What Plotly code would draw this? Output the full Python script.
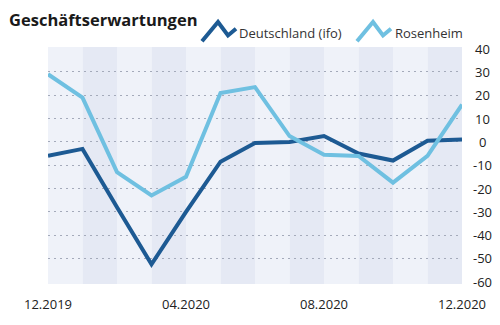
import plotly.graph_objects as go

months = ["12.2019", "01.2020", "02.2020", "03.2020", "04.2020", "05.2020", "06.2020",
          "07.2020", "08.2020", "09.2020", "10.2020", "11.2020", "12.2020"]
deutschland = [-6, -3, -28, -52.5, -30, -8.5, -0.5, 0, 2.5, -5, -8, 0.5, 1]
rosenheim = [29, 19, -13, -23, -15, 21, 23.5, 2.5, -5.5, -6, -17.5, -6, 16]
xtick_idx = [0, 4, 8, 12]
xtick_text = ["12.2019", "04.2020", "08.2020", "12.2020"]
ytick_vals = [40, 30, 20, 10, 0, -10, -20, -30, -40, -50, -60]
grid_vals = [30, 20, 10, 0, -10, -20, -30, -40, -50]

DARK = "#1d5a93"
LIGHT = "#6fc0e1"
FONT = "Open Sans"

W, H = 500, 325
ML, MR, MT, MB = 48, 38, 47, 32
PW, PH = W - ML - MR, H - MT - MB


def px(x):
    return (x - ML) / PW


def py(y):
    return (H - MB - y) / PH


x = list(range(len(months)))

fig = go.Figure()
fig.add_trace(go.Scatter(x=x, y=deutschland, mode="lines", name="Deutschland (ifo)",
                         line=dict(color=DARK, width=4), hoverinfo="skip"))
fig.add_trace(go.Scatter(x=x, y=rosenheim, mode="lines", name="Rosenheim",
                         line=dict(color=LIGHT, width=4), hoverinfo="skip"))

shapes = []
for i in range(len(months) - 1):
    shapes.append(dict(type="rect", xref="x", yref="paper", x0=i, x1=i + 1, y0=0, y1=1,
                       fillcolor="#eff2f9" if i % 2 == 0 else "#e5e9f4",
                       line=dict(width=0), layer="below"))

# legend icons (zigzag)
def icon(x0, color):
    pts = [(x0, 41), (x0 + 16, 21), (x0 + 26, 35), (x0 + 34, 28)]
    path = "M " + " L ".join(f"{px(a):.5f},{py(b):.5f}" for a, b in pts)
    return dict(type="path", xref="paper", yref="paper", path=path,
                line=dict(color=color, width=4))

shapes.append(icon(202, DARK))
shapes.append(icon(357, LIGHT))

annotations = [
    dict(text="<b>Geschäftserwartungen</b>", xref="paper", yref="paper", x=px(7), y=py(18),
         xanchor="left", yanchor="middle", showarrow=False,
         font=dict(family=FONT, size=16.5, color="#1a1a1a")),
    dict(text="Deutschland (ifo)", xref="paper", yref="paper", x=px(237), y=py(32),
         xanchor="left", yanchor="middle", showarrow=False,
         font=dict(family=FONT, size=13, color="#333333")),
    dict(text="Rosenheim", xref="paper", yref="paper", x=px(393), y=py(32),
         xanchor="left", yanchor="middle", showarrow=False,
         font=dict(family=FONT, size=13, color="#333333")),
]
for v in ytick_vals:
    annotations.append(dict(text=str(v), xref="paper", yref="y", x=px(482), y=v,
                            xanchor="center", yanchor="middle", showarrow=False,
                            font=dict(family=FONT, size=13, color="#222222")))

fig.update_layout(
    width=W, height=H,
    margin=dict(l=ML, r=MR, t=MT, b=MB, pad=0),
    paper_bgcolor="white", plot_bgcolor="white",
    showlegend=False,
    shapes=shapes,
    annotations=annotations,
    xaxis=dict(range=[0, 12], tickvals=xtick_idx, ticktext=xtick_text, showgrid=False,
               zeroline=False, showline=False, ticks="", ticklabelstandoff=11,
               tickfont=dict(family=FONT, size=13, color="#222222")),
    yaxis=dict(range=[-60.95, 40.7], tickvals=grid_vals, showticklabels=False,
               showgrid=True, gridcolor="#a4aaba", gridwidth=1, griddash="2px,4px",
               zeroline=False, showline=False, ticks=""),
)

fig.write_html("out.html")
